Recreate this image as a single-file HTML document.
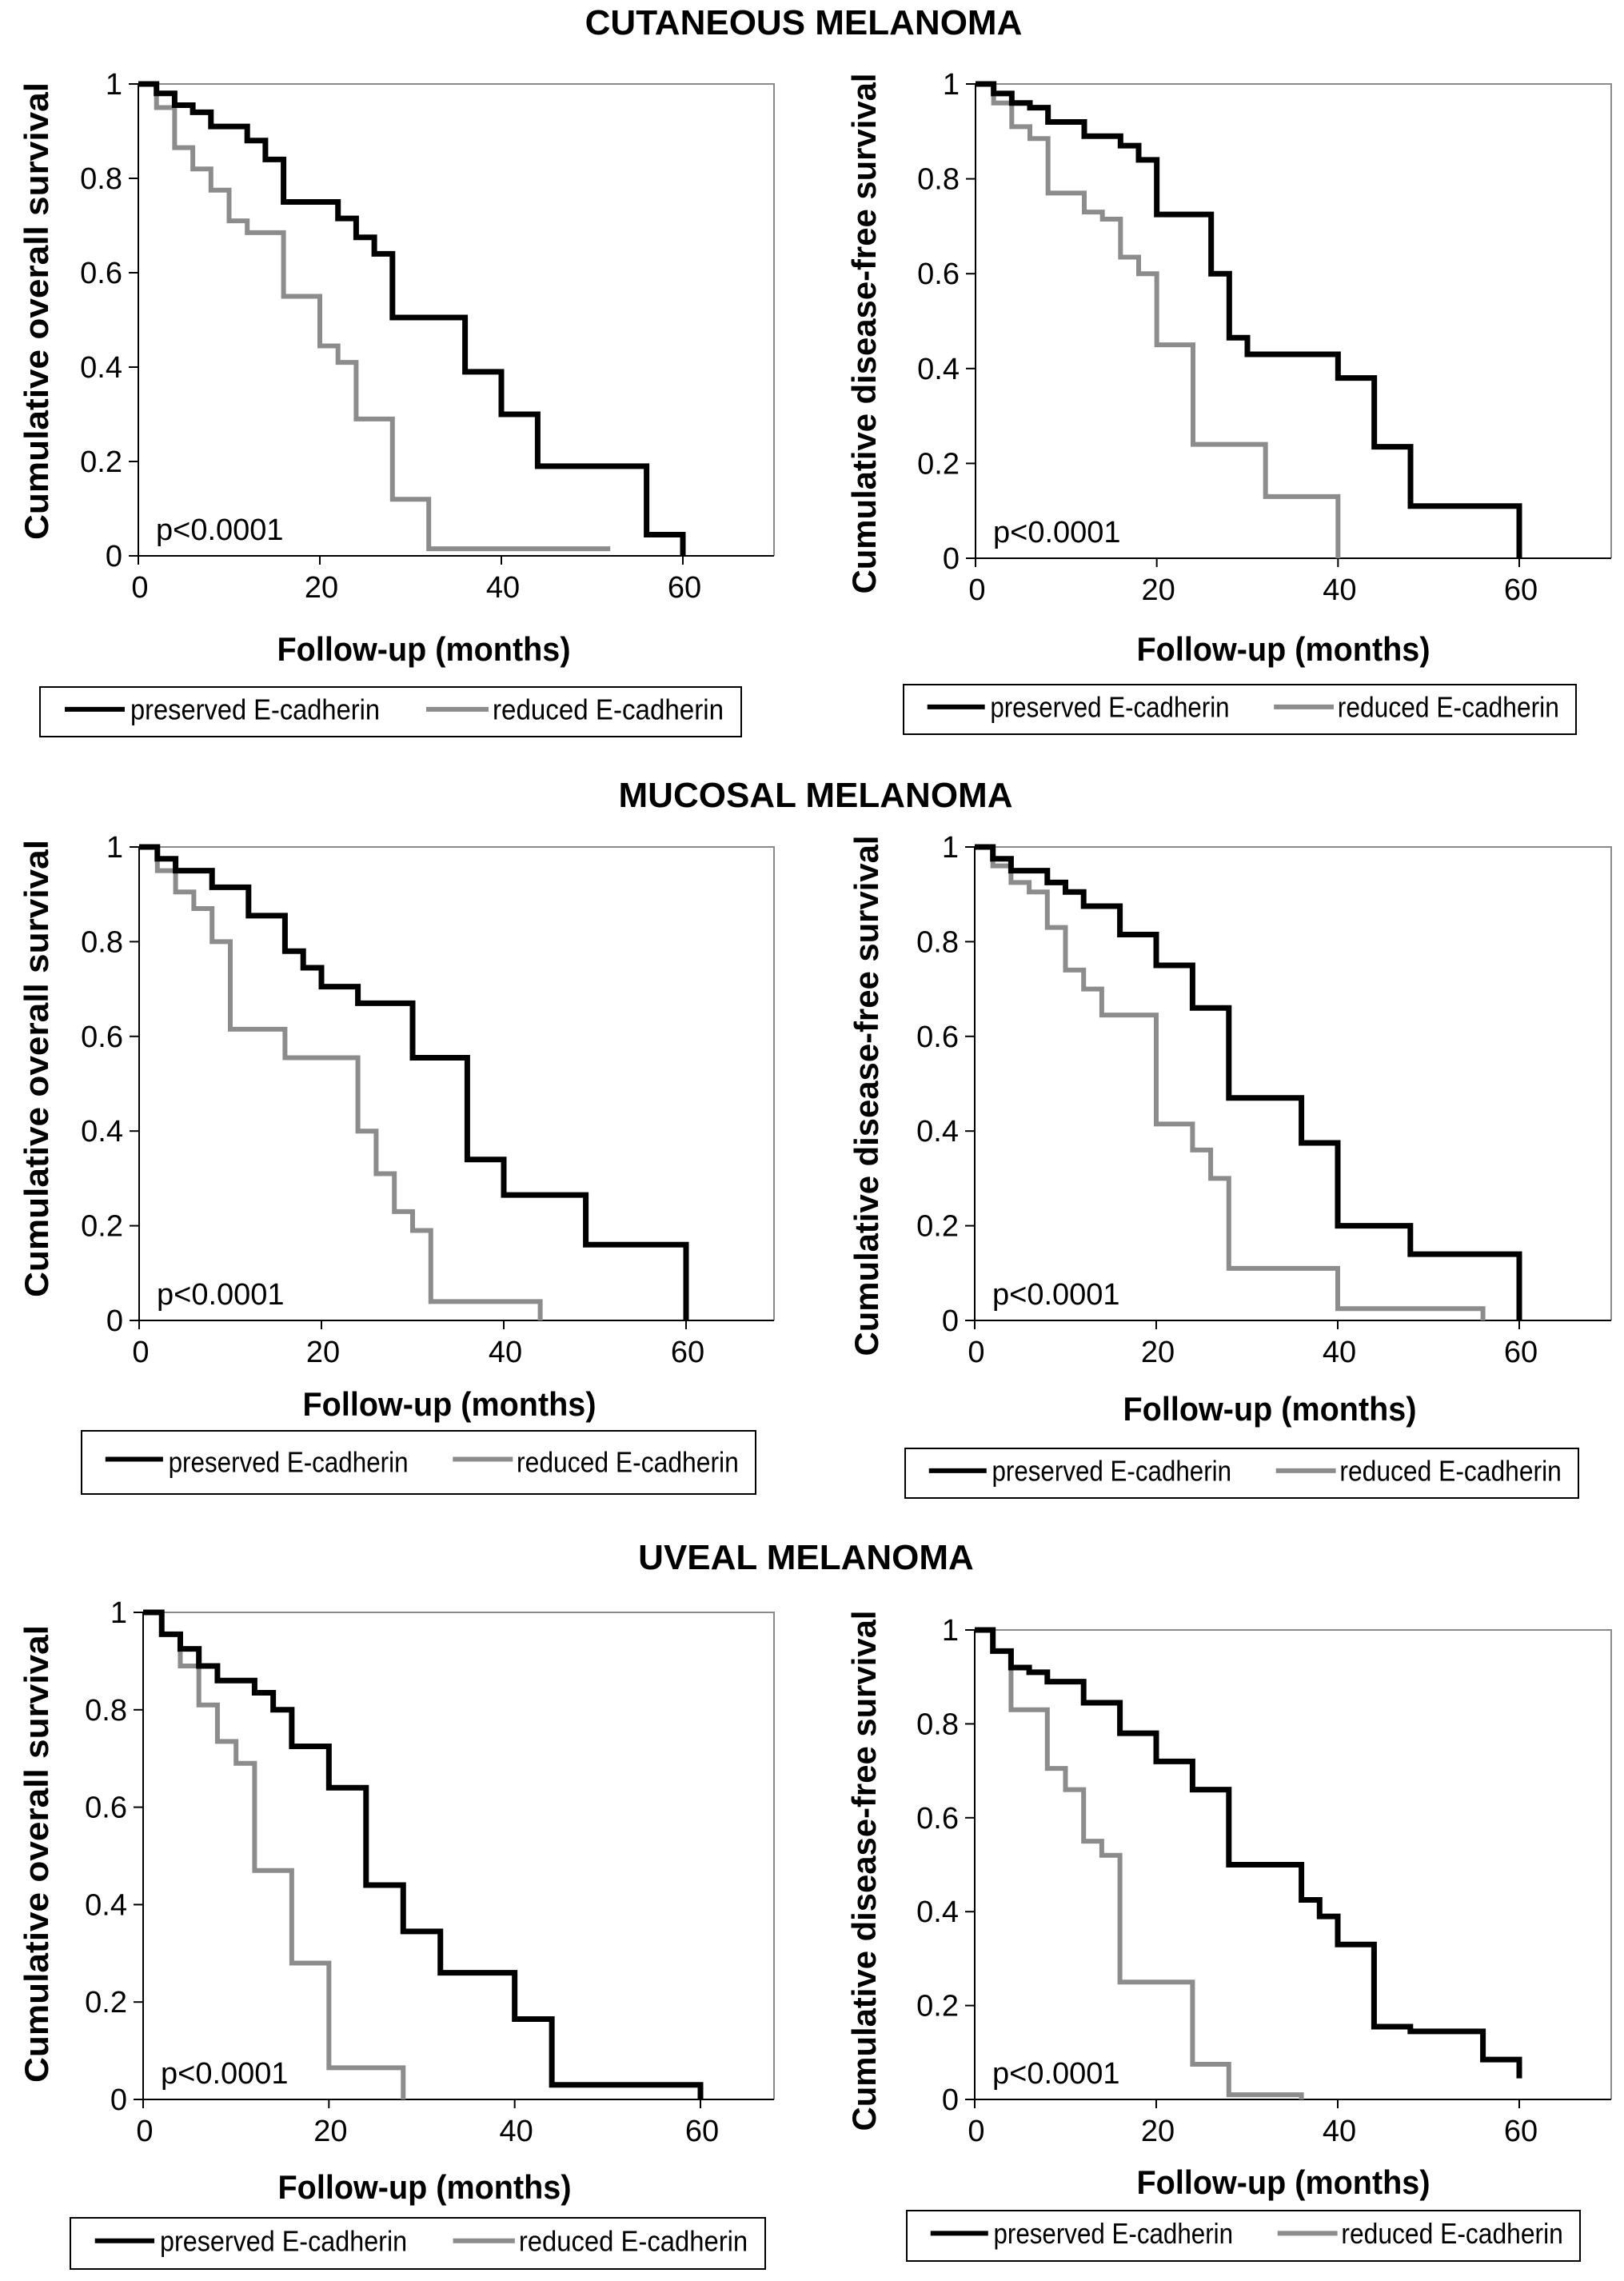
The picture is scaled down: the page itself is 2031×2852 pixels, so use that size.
<!DOCTYPE html>
<html><head><meta charset="utf-8"><title>E-cadherin survival curves</title>
<style>
html,body{margin:0;padding:0;background:#fff;}
svg{display:block;}
text{font-family:"Liberation Sans",Arial,sans-serif;fill:#000;}
.title{font-weight:bold;font-size:44px;}
.axt{font-weight:bold;font-size:42px;}
.tick{font-size:38px;}
.leg{font-size:36px;}
.pv{font-size:38px;}
</style></head>
<body>
<svg id="fig" width="2031" height="2852" viewBox="0 0 2031 2852" xmlns="http://www.w3.org/2000/svg">
<rect x="0" y="0" width="2031" height="2852" fill="#fff"/>
<text class="title" x="1005" y="43" text-anchor="middle">CUTANEOUS MELANOMA</text>
<text class="title" x="1020" y="1009" text-anchor="middle">MUCOSAL MELANOMA</text>
<text class="title" x="1008" y="1962" text-anchor="middle">UVEAL MELANOMA</text>
<g id="panels"></g>
</svg>
<script>
// ---- data (months, survival) ----
const xTicks = [0, 20, 40, 60];
const yTicks = [0, 0.2, 0.4, 0.6, 0.8, 1];
const yTickLabels = ["0", "0.2", "0.4", "0.6", "0.8", "1"];
const legendLabels = ["preserved E-cadherin", "reduced E-cadherin"];
const pLabel = "p<0.0001";

const p1PresT = [2, 4, 6, 8, 12, 14, 16, 22, 24, 26, 28, 36, 40, 44, 56, 60];
const p1PresS = [0.98, 0.955, 0.94, 0.91, 0.88, 0.84, 0.75, 0.715, 0.675, 0.64, 0.505, 0.39, 0.30, 0.19, 0.045, 0];
const p1RedT = [2, 4, 6, 8, 10, 12, 16, 20, 22, 24, 28, 32, 52];
const p1RedS = [0.95, 0.865, 0.82, 0.775, 0.71, 0.685, 0.55, 0.445, 0.41, 0.29, 0.12, 0.015, 0.015];

const p2PresT = [2, 4, 6, 8, 12, 16, 18, 20, 26, 28, 30, 40, 44, 48, 60];
const p2PresS = [0.98, 0.96, 0.95, 0.92, 0.89, 0.87, 0.84, 0.725, 0.60, 0.465, 0.43, 0.38, 0.235, 0.11, 0];
const p2RedT = [2, 4, 6, 8, 12, 14, 16, 18, 20, 24, 32, 40];
const p2RedS = [0.96, 0.91, 0.885, 0.77, 0.73, 0.715, 0.635, 0.60, 0.45, 0.24, 0.13, 0];

const p3PresT = [2, 4, 8, 12, 16, 18, 20, 24, 30, 36, 40, 49, 60];
const p3PresS = [0.975, 0.95, 0.915, 0.855, 0.78, 0.745, 0.705, 0.67, 0.555, 0.34, 0.265, 0.16, 0];
const p3RedT = [2, 4, 6, 8, 10, 16, 24, 26, 28, 30, 32, 44];
const p3RedS = [0.95, 0.905, 0.87, 0.80, 0.615, 0.555, 0.40, 0.31, 0.23, 0.19, 0.04, 0];

const p4PresT = [2, 4, 8, 10, 12, 16, 20, 24, 28, 36, 40, 48, 60];
const p4PresS = [0.975, 0.95, 0.925, 0.905, 0.875, 0.815, 0.75, 0.66, 0.47, 0.375, 0.20, 0.14, 0];
const p4RedT = [2, 4, 6, 8, 10, 12, 14, 20, 24, 26, 28, 40, 56];
const p4RedS = [0.96, 0.925, 0.905, 0.83, 0.74, 0.70, 0.645, 0.415, 0.36, 0.30, 0.11, 0.025, 0];

const p5PresT = [2, 4, 6, 8, 12, 14, 16, 20, 24, 28, 32, 40, 44, 60];
const p5PresS = [0.955, 0.925, 0.89, 0.86, 0.835, 0.80, 0.725, 0.64, 0.44, 0.345, 0.26, 0.165, 0.03, 0];
const p5RedT = [2, 4, 6, 8, 10, 12, 16, 20, 28];
const p5RedS = [0.955, 0.89, 0.81, 0.735, 0.69, 0.47, 0.28, 0.065, 0];

const p6PresT = [2, 4, 6, 8, 12, 16, 20, 24, 28, 36, 38, 40, 44, 48, 56, 60];
const p6PresS = [0.955, 0.92, 0.91, 0.89, 0.845, 0.78, 0.72, 0.66, 0.50, 0.425, 0.39, 0.33, 0.155, 0.145, 0.085, 0.045];
const p6RedT = [2, 4, 8, 10, 12, 14, 16, 24, 28, 36];
const p6RedS = [0.955, 0.83, 0.705, 0.66, 0.55, 0.52, 0.25, 0.075, 0.01, 0];

// ---- layout ----
const panels = [
 {id:"cutaneous-os", L:173, R:968, T:105, B:695, X60:854, yt:"Cumulative overall survival", ytx:45, yty:389, ytl:572, xtx:530, xty:826, lg:[50,859,927,921], pres:[p1PresT,p1PresS], red:[p1RedT,p1RedS]},
 {id:"cutaneous-dfs", L:1220, R:2015, T:105, B:698, X60:1900, yt:"Cumulative disease-free survival", ytx:1080, yty:417, ytl:651, xtx:1605, xty:826, lg:[1130,856,1971,918], pres:[p2PresT,p2PresS], red:[p2RedT,p2RedS]},
 {id:"mucosal-os", L:174, R:968, T:1059, B:1651, X60:858, yt:"Cumulative overall survival", ytx:45, yty:1336, ytl:572, xtx:562, xty:1770, lg:[102,1789,945,1868], pres:[p3PresT,p3PresS], red:[p3RedT,p3RedS]},
 {id:"mucosal-dfs", L:1219, R:2015, T:1059, B:1651, X60:1900, yt:"Cumulative disease-free survival", ytx:1083, yty:1370, ytl:651, xtx:1588, xty:1776, lg:[1132,1811,1974,1873], pres:[p4PresT,p4PresS], red:[p4RedT,p4RedS]},
 {id:"uveal-os", L:179, R:968, T:2016, B:2625, X60:876, yt:"Cumulative overall survival", ytx:45, yty:2318, ytl:572, xtx:531, xty:2749, lg:[88,2773,957,2837], pres:[p5PresT,p5PresS], red:[p5RedT,p5RedS]},
 {id:"uveal-dfs", L:1219, R:2015, T:2038, B:2625, X60:1900, yt:"Cumulative disease-free survival", ytx:1080, yty:2339, ytl:651, xtx:1605, xty:2743, lg:[1134,2764,1976,2827], pres:[p6PresT,p6PresS], red:[p6RedT,p6RedS]}
];

const NS = "http://www.w3.org/2000/svg";
const root = document.getElementById("panels");
function mk(tag, attrs, parent){
  const e = document.createElementNS(NS, tag);
  for (const k in attrs) e.setAttribute(k, attrs[k]);
  parent.appendChild(e);
  return e;
}

panels.forEach(function(p){
  const g = mk("g", {}, root);
  
  
  const xs = function(t){ return p.L + (p.X60 - p.L) * t / 60; };
  const ys = function(v){ return p.B - (p.B - p.T) * v; };

  const fr = mk("path", {d:"M"+p.L+" "+p.T+" H"+p.R+" V"+p.B, fill:"none", stroke:"#8a8a8a", "stroke-width":2}, g);
  
  
  const ya = mk("line", {x1:p.L, y1:p.T, x2:p.L, y2:p.B, stroke:"#000", "stroke-width":2}, g);
  
  
  const xa = mk("line", {x1:p.L, y1:p.B, x2:p.R, y2:p.B, stroke:"#000", "stroke-width":2}, g);
  
  

  yTicks.forEach(function(v, i){
    const y = ys(v);
    const tk = mk("line", {x1:p.L-12, y1:y, x2:p.L, y2:y, stroke:"#000", "stroke-width":2}, g);
    
    
    const tl = mk("text", {x:p.L-20, y:y+13, "text-anchor":"end", "class":"tick"}, g);
    tl.textContent = yTickLabels[i];
    
    
  });
  xTicks.forEach(function(t){
    const x = xs(t);
    const tk = mk("line", {x1:x, y1:p.B, x2:x, y2:p.B+11, stroke:"#000", "stroke-width":2}, g);
    
    
    const tl = mk("text", {x:x+2, y:p.B+52, "text-anchor":"middle", "class":"tick"}, g);
    tl.textContent = String(t);
    
    
  });

  function stepPath(T, S){
    let d = "M" + xs(0) + " " + ys(1);
    for (let i = 0; i < T.length; i++){
      d += " H" + xs(T[i]) + " V" + ys(S[i]);
    }
    return d;
  }
  const red = mk("path", {d:stepPath(p.red[0], p.red[1]), fill:"none", stroke:"#8c8c8c", "stroke-width":6, "stroke-linejoin":"miter"}, g);
  
  
  const pres = mk("path", {d:stepPath(p.pres[0], p.pres[1]), fill:"none", stroke:"#000", "stroke-width":7, "stroke-linejoin":"miter"}, g);
  
  

  const pv = mk("text", {x:p.L+22, y:p.B-20, "class":"pv"}, g);
  pv.textContent = pLabel;
  
  

  const yt = mk("text", {x:0, y:0, "text-anchor":"middle", "class":"axt", transform:"translate("+(p.ytx+15)+","+p.yty+") rotate(-90)", textLength:p.ytl, lengthAdjust:"spacingAndGlyphs"}, g);
  yt.textContent = p.yt;
  
  
  const xt = mk("text", {x:p.xtx, y:p.xty, "text-anchor":"middle", "class":"axt", textLength:367, lengthAdjust:"spacingAndGlyphs"}, g);
  xt.textContent = "Follow-up (months)";
  
  

  const lx = p.lg[0], ly = p.lg[1], lw = p.lg[2]-p.lg[0], lh = p.lg[3]-p.lg[1];
  const k = lw / 877;
  const lgG = mk("g", {}, g);
  
  
  mk("rect", {x:lx, y:ly, width:lw, height:lh, fill:"#fff", stroke:"#000", "stroke-width":2}, lgG);
  const cy = ly + lh*0.45;
  const l1 = mk("line", {x1:lx+31*k, y1:cy, x2:lx+106*k, y2:cy, stroke:"#000", "stroke-width":6}, lgG);
  
  
  const t1 = mk("text", {x:lx+113*k, y:ly+lh*0.65, "class":"leg", textLength:312*k, lengthAdjust:"spacingAndGlyphs"}, lgG);
  t1.textContent = legendLabels[0];
  
  
  const l2 = mk("line", {x1:lx+483*k, y1:cy, x2:lx+561*k, y2:cy, stroke:"#8c8c8c", "stroke-width":6}, lgG);
  
  
  const t2 = mk("text", {x:lx+566*k, y:ly+lh*0.65, "class":"leg", textLength:289*k, lengthAdjust:"spacingAndGlyphs"}, lgG);
  t2.textContent = legendLabels[1];
  
  
});
</script>
</body></html>
